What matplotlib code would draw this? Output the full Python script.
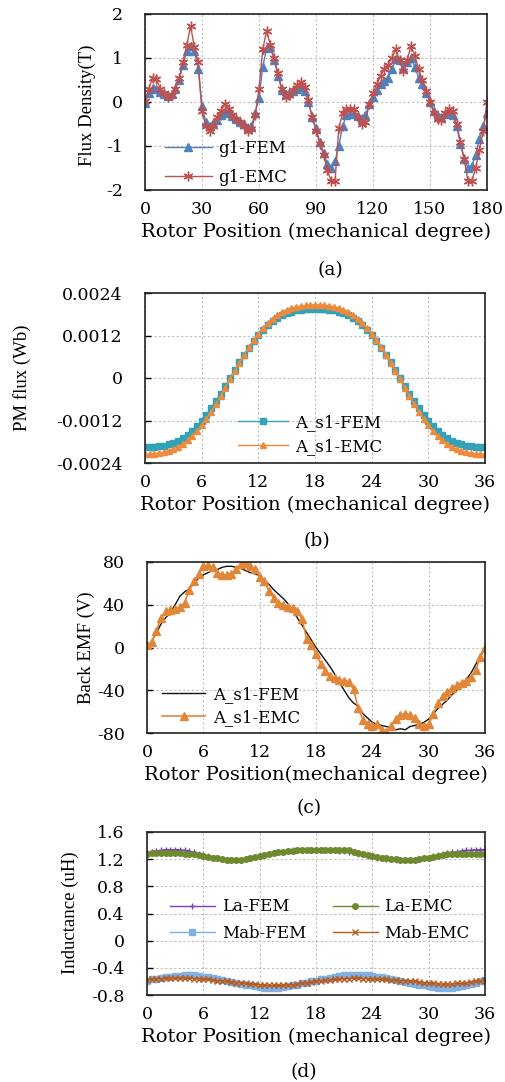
import numpy as np
import matplotlib
matplotlib.use("Agg")
import matplotlib.pyplot as plt

plt.rcParams['axes.unicode_minus'] = False
plt.rcParams['font.family'] = ['DejaVu Serif']

# ---------------- data ----------------
# (a) air-gap flux density, 0..180 deg, 2 deg step
pos_a = np.arange(0, 181, 2)
g1_fem = [-0.02, 0.20, 0.32, 0.30, 0.22, 0.18, 0.13, 0.18, 0.30, 0.50,
          0.85, 1.15, 1.28, 1.15, 0.75, -0.10, -0.45, -0.55, -0.48, -0.40,
          -0.30, -0.22, -0.25, -0.32, -0.38, -0.45, -0.50, -0.58, -0.55, -0.25,
          0.10, 0.80, 1.22, 1.25, 0.95, 0.60, 0.28, 0.18, 0.20, 0.25,
          0.30, 0.35, 0.25, 0.00, -0.35, -0.60, -0.90, -1.15, -1.40, -1.50,
          -1.35, -1.00, -0.55, -0.30, -0.25, -0.28, -0.32, -0.40, -0.30, -0.05,
          0.12, 0.28, 0.40, 0.48, 0.55, 0.75, 0.98, 0.95, 0.78, 0.90,
          1.00, 0.80, 0.55, 0.40, 0.20, 0.00, -0.20, -0.32, -0.35, -0.28,
          -0.22, -0.30, -0.55, -0.95, -1.30, -1.50, -1.45, -1.20, -0.85, -0.55,
          -0.25]
g1_emc = [0.02, 0.30, 0.55, 0.52, 0.30, 0.20, 0.12, 0.15, 0.30, 0.55,
          0.90, 1.30, 1.72, 1.25, 0.90, -0.20, -0.55, -0.65, -0.55, -0.35,
          -0.20, -0.05, -0.15, -0.30, -0.38, -0.45, -0.55, -0.65, -0.62, -0.30,
          0.30, 1.20, 1.62, 1.30, 1.00, 0.65, 0.30, 0.12, 0.15, 0.28,
          0.38, 0.45, 0.35, 0.05, -0.35, -0.65, -0.95, -1.20, -1.55, -1.80,
          -1.80, -0.60, -0.25, -0.15, -0.15, -0.15, -0.35, -0.50, -0.45, -0.05,
          0.20, 0.40, 0.60, 0.75, 0.85, 1.00, 1.20, 0.95, 0.70, 0.95,
          1.28, 1.05, 0.75, 0.50, 0.25, 0.00, -0.25, -0.38, -0.40, -0.25,
          -0.15, -0.20, -0.50, -0.90, -1.30, -1.80, -1.80, -1.50, -1.10, -0.65,
          0.00]

# (b)-(d) rotor position 0..36 deg, 0.5 deg step
pos_b = np.arange(0, 36.01, 0.5)
pm_fem = [-0.00196, -0.001957, -0.001948, -0.001932, -0.001908, -0.001873, -0.001827, -0.001767,
          -0.001691, -0.001598, -0.001486, -0.001355, -0.001205, -0.001037, -0.000852, -0.000652,
          -0.000441, -0.000223, 0.0, 0.000223, 0.000441, 0.000652, 0.000852, 0.001037,
          0.001205, 0.001355, 0.001486, 0.001598, 0.001691, 0.001767, 0.001827, 0.001873,
          0.001908, 0.001932, 0.001948, 0.001957, 0.00196,
          0.001957, 0.001948, 0.001932, 0.001908, 0.001873, 0.001827, 0.001767, 0.001691,
          0.001598, 0.001486, 0.001355, 0.001205, 0.001037, 0.000852, 0.000652, 0.000441,
          0.000223, 0.0, -0.000223, -0.000441, -0.000652, -0.000852, -0.001037, -0.001205,
          -0.001355, -0.001486, -0.001598, -0.001691, -0.001767, -0.001827, -0.001873, -0.001908,
          -0.001932, -0.001948, -0.001957, -0.00196]
pm_emc = [-0.002147, -0.002144, -0.002134, -0.002117, -0.002091, -0.002053, -0.002004, -0.001940,
          -0.001858, -0.001758, -0.001637, -0.001497, -0.001335, -0.001155, -0.000956, -0.000741,
          -0.000514, -0.000280, -0.00004, 0.000200, 0.000434, 0.000661, 0.000876, 0.001075,
          0.001255, 0.001417, 0.001557, 0.001678, 0.001778, 0.001860, 0.001924, 0.001973,
          0.002011, 0.002037, 0.002054, 0.002064, 0.002067,
          0.002064, 0.002054, 0.002037, 0.002011, 0.001973, 0.001924, 0.001860, 0.001778,
          0.001678, 0.001557, 0.001417, 0.001255, 0.001075, 0.000876, 0.000661, 0.000434,
          0.000200, -0.00004, -0.000280, -0.000514, -0.000741, -0.000956, -0.001155, -0.001335,
          -0.001497, -0.001637, -0.001758, -0.001858, -0.001940, -0.002004, -0.002053, -0.002091,
          -0.002117, -0.002134, -0.002144, -0.002147]

emf_fem = [0, 6, 14, 22, 28, 33, 40, 48, 52, 55, 60, 65, 68, 70, 72, 73, 75, 76, 76, 75,
           74, 72, 70, 69, 67, 63, 59, 54, 50, 46, 41, 35, 28, 21, 14, 7, 0, -6, -12, -18,
           -25, -33, -40, -47, -52, -55, -62, -66, -70, -72, -73, -74, -75, -77, -76, -77, -74, -73,
           -72, -70, -67, -62, -57, -53, -49, -44, -40, -35, -30, -24, -16, -8, 0]
emf_emc = [2, 5, 15, 28, 34, 35, 36, 38, 42, 54, 62, 69, 76, 77, 75, 70, 68, 68, 69, 73,
           78, 79, 76, 73, 66, 62, 53, 46, 42, 40, 38, 37, 34, 27, 8, 2, -6, -15, -22, -27,
           -29, -30, -31, -32, -39, -57, -68, -72, -73, -72, -77, -79, -73, -67, -63, -62, -63, -66,
           -72, -73, -72, -62, -52, -45, -42, -38, -35, -33, -31, -28, -21, -9, 0]

la_fem = [1.29, 1.31, 1.32, 1.33, 1.34, 1.34, 1.34, 1.34, 1.33, 1.32, 1.30, 1.28, 1.26, 1.24,
          1.22, 1.21, 1.20, 1.19, 1.19, 1.19, 1.19, 1.20, 1.21, 1.23, 1.24, 1.26, 1.27, 1.29,
          1.30, 1.31, 1.32, 1.33, 1.33, 1.34, 1.34, 1.34, 1.34, 1.34, 1.34, 1.33, 1.33, 1.32,
          1.32, 1.31, 1.30, 1.28, 1.27, 1.25, 1.24, 1.22, 1.21, 1.20, 1.20, 1.19, 1.19, 1.19,
          1.19, 1.19, 1.20, 1.21, 1.22, 1.24, 1.26, 1.28, 1.29, 1.30, 1.31, 1.32, 1.33, 1.33,
          1.34, 1.34, 1.34]
la_emc = [1.28, 1.29, 1.29, 1.29, 1.29, 1.29, 1.29, 1.29, 1.28, 1.28, 1.27, 1.26, 1.25, 1.23,
          1.22, 1.21, 1.20, 1.19, 1.19, 1.19, 1.19, 1.20, 1.21, 1.23, 1.25, 1.26, 1.28, 1.29,
          1.30, 1.31, 1.32, 1.32, 1.33, 1.33, 1.34, 1.34, 1.34, 1.34, 1.34, 1.34, 1.34, 1.33,
          1.33, 1.33, 1.31, 1.29, 1.27, 1.26, 1.25, 1.23, 1.22, 1.21, 1.20, 1.20, 1.19, 1.19,
          1.19, 1.19, 1.20, 1.21, 1.22, 1.23, 1.25, 1.26, 1.27, 1.27, 1.28, 1.28, 1.28, 1.28,
          1.28, 1.28, 1.28]
mab_fem = [-0.59, -0.57, -0.56, -0.55, -0.54, -0.53, -0.52, -0.52, -0.51, -0.51, -0.51, -0.52,
           -0.53, -0.54, -0.55, -0.57, -0.58, -0.59, -0.61, -0.62, -0.64, -0.65, -0.66, -0.67,
           -0.68, -0.69, -0.69, -0.69, -0.69, -0.68, -0.67, -0.66, -0.65, -0.63, -0.62, -0.60,
           -0.59, -0.57, -0.56, -0.55, -0.53, -0.52, -0.51, -0.50, -0.50, -0.50, -0.50, -0.51,
           -0.52, -0.53, -0.54, -0.55, -0.57, -0.58, -0.59, -0.61, -0.62, -0.64, -0.65, -0.66,
           -0.67, -0.68, -0.69, -0.69, -0.69, -0.69, -0.68, -0.67, -0.66, -0.64, -0.62, -0.60,
           -0.58]
mab_emc = [-0.58, -0.57, -0.56, -0.56, -0.55, -0.55, -0.55, -0.55, -0.55, -0.55, -0.56, -0.56,
           -0.57, -0.57, -0.58, -0.59, -0.59, -0.60, -0.61, -0.62, -0.62, -0.63, -0.64, -0.64,
           -0.65, -0.65, -0.66, -0.66, -0.66, -0.66, -0.65, -0.65, -0.64, -0.63, -0.62, -0.61,
           -0.60, -0.59, -0.58, -0.58, -0.57, -0.56, -0.56, -0.56, -0.55, -0.55, -0.56, -0.56,
           -0.56, -0.57, -0.57, -0.57, -0.58, -0.58, -0.59, -0.59, -0.60, -0.60, -0.61, -0.62,
           -0.62, -0.63, -0.64, -0.64, -0.64, -0.64, -0.63, -0.63, -0.62, -0.61, -0.60, -0.59,
           -0.58]

xticks_a = [0, 30, 60, 90, 120, 150, 180]
xticks_b = [0, 6, 12, 18, 24, 30, 36]
yticks_a = [-2, -1, 0, 1, 2]
yticks_b = [-0.0024, -0.0012, 0, 0.0012, 0.0024]
ylabels_b = ['-0.0024', '-0.0012', '0', '0.0012', '0.0024']
yticks_c = [-80, -40, 0, 40, 80]
yticks_d = [-0.8, -0.4, 0, 0.4, 0.8, 1.2, 1.6]
ylabels_d = ['-0.8', '-0.4', '0', '0.4', '0.8', '1.2', '1.6']

W, H = 506, 1082
fig = plt.figure(figsize=(W / 100, H / 100), dpi=100)


def make_ax(l, r, t, b):
    return fig.add_axes([l / W, 1 - b / H, (r - l) / W, (b - t) / H])


TICK_FS = 12.5
LABEL_FS = 14
LEG_FS = 12
CAP_FS = 13.5
YLAB_FAMILY = ['Liberation Serif']


def style(ax, xlim, xticks, ylim, yticks, yticklabels=None):
    ax.set_xlim(*xlim)
    ax.set_ylim(*ylim)
    ax.set_xticks(xticks)
    ax.set_yticks(yticks)
    if yticklabels is not None:
        ax.set_yticklabels(yticklabels)
    ax.grid(True, color='#bfbfbf', linestyle=(0, (2, 2)), linewidth=0.8)
    ax.set_axisbelow(True)
    for s in ax.spines.values():
        s.set_linewidth(1.2)
        s.set_color('#222222')
    ax.tick_params(axis='x', length=0, pad=8, labelsize=TICK_FS)
    ax.tick_params(axis='y', direction='in', length=4, width=1, pad=16, labelsize=TICK_FS)


def xlabel(ax, text):
    ax.set_xlabel(text, fontsize=LABEL_FS, labelpad=3)


# ---- (a)
ax = make_ax(145, 487, 14, 190)
ax.plot(pos_a, g1_fem, color='#4f81bd', marker='^', markersize=5.5, linewidth=1, label='g1-FEM')
ax.plot(pos_a, g1_emc, color='#c0504d', marker=(6, 2, 0), markersize=7, linewidth=1,
        markeredgewidth=1, label='g1-EMC')
style(ax, (0, 180), xticks_a, (-2, 2), yticks_a)
xlabel(ax, 'Rotor Position (mechanical degree)')
fig.text(87 / W, 1 - 105 / H, 'Flux Density(T)', rotation=90, ha='center', va='center',
         fontsize=13.5, family=YLAB_FAMILY)
ax.legend(loc='center left', bbox_to_anchor=(0.058, 0.153), frameon=False, fontsize=LEG_FS,
          handlelength=2.8, handletextpad=0.4, labelspacing=0.7, borderpad=0, borderaxespad=0)
fig.text(330 / W, 1 - 270 / H, '(a)', ha='center', va='center', fontsize=CAP_FS)

# ---- (b)
ax = make_ax(145, 485, 293, 463)
ax.plot(pos_b, pm_fem, color='#31a2b8', marker='s', markersize=4, linewidth=1, label='A_s1-FEM')
ax.plot(pos_b, pm_emc, color='#ed8a3c', marker='^', markersize=5, linewidth=1, label='A_s1-EMC')
style(ax, (0, 36), xticks_b, (-0.0024, 0.0024), yticks_b, ylabels_b)
xlabel(ax, 'Rotor Position (mechanical degree)')
fig.text(22 / W, 1 - 378 / H, 'PM flux (Wb)', rotation=90, ha='center', va='center',
         fontsize=13.5, family=YLAB_FAMILY)
ax.legend(loc='center left', bbox_to_anchor=(0.274, 0.168), frameon=False, fontsize=LEG_FS,
          handlelength=3.0, handletextpad=0.4, labelspacing=0.4, borderpad=0, borderaxespad=0)
fig.text(317 / W, 1 - 541 / H, '(b)', ha='center', va='center', fontsize=CAP_FS)

# ---- (c)
ax = make_ax(147, 485, 562, 733)
ax.plot(pos_b, emf_fem, color='#111111', linewidth=1, label='A_s1-FEM')
ax.plot(pos_b, emf_emc, color='#e2873a', marker='^', markersize=5.5, linewidth=1.2, label='A_s1-EMC')
style(ax, (0, 36), xticks_b, (-80, 80), yticks_c)
xlabel(ax, 'Rotor Position(mechanical degree)')
fig.text(86 / W, 1 - 648 / H, 'Back EMF (V)', rotation=90, ha='center', va='center',
         fontsize=13.5, family=YLAB_FAMILY)
ax.legend(loc='center left', bbox_to_anchor=(0.044, 0.158), frameon=False, fontsize=LEG_FS,
          handlelength=2.6, handletextpad=0.5, labelspacing=0.4, borderpad=0, borderaxespad=0)
fig.text(309 / W, 1 - 808 / H, '(c)', ha='center', va='center', fontsize=CAP_FS)

# ---- (d)
ax = make_ax(147, 485, 832, 995)
ax.plot(pos_b, la_fem, color='#7b3fc0', marker='+', markersize=5, linewidth=1, label='La-FEM')
ax.plot(pos_b, mab_fem, color='#7fb0e6', marker='s', markersize=4, linewidth=1, label='Mab-FEM')
ax.plot(pos_b, la_emc, color='#6e8a2e', marker='o', markersize=4, linewidth=1, label='La-EMC')
ax.plot(pos_b, mab_emc, color='#b85c1e', marker='x', markersize=4, linewidth=1, label='Mab-EMC')
style(ax, (0, 36), xticks_b, (-0.8, 1.6), yticks_d, ylabels_d)
xlabel(ax, 'Rotor Position (mechanical degree)')
fig.text(70 / W, 1 - 913 / H, 'Inductance (uH)', rotation=90, ha='center', va='center',
         fontsize=13.5, family=YLAB_FAMILY)
ax.legend(loc='center left', bbox_to_anchor=(0.068, 0.46), frameon=False, fontsize=LEG_FS,
          ncol=2, handlelength=2.7, handletextpad=0.4, labelspacing=0.55, columnspacing=1.6,
          borderpad=0, borderaxespad=0)
fig.text(304 / W, 1 - 1072 / H, '(d)', ha='center', va='center', fontsize=CAP_FS)

fig.savefig('out.png', dpi=100)
